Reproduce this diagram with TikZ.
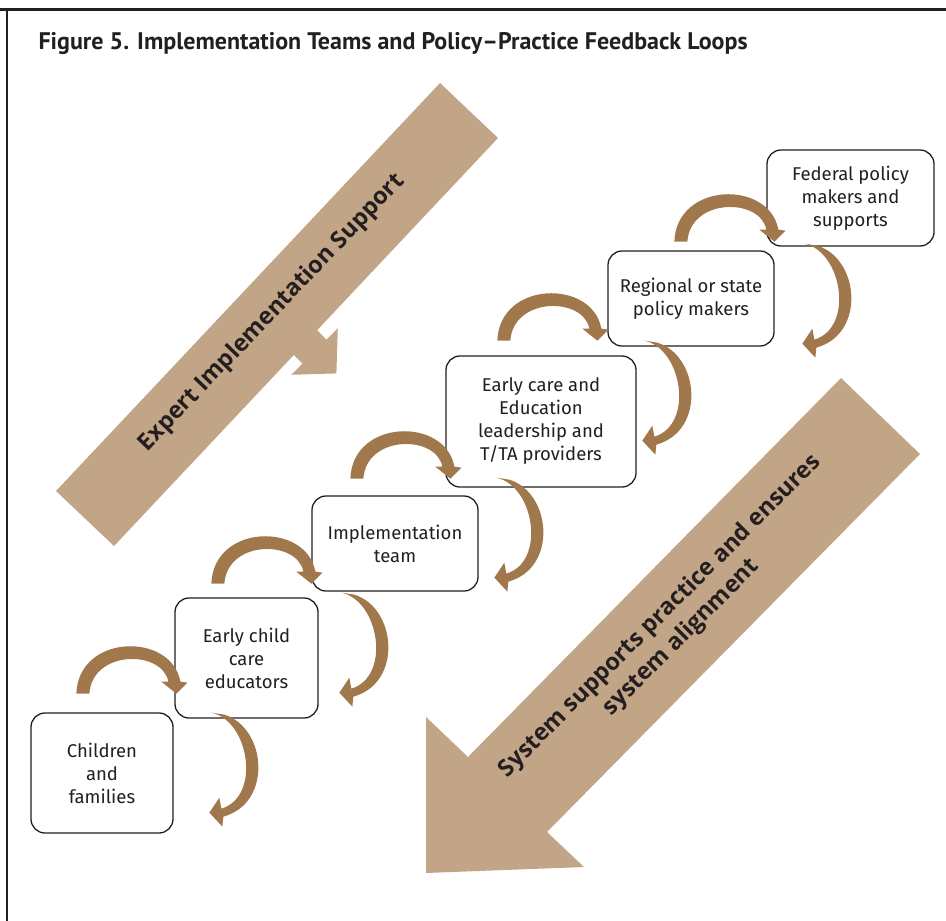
\documentclass[tikz,border=0pt]{standalone}
\usepackage{fontspec}
\setmainfont{Fira Sans}
\newfontfamily\titlefont{PT Sans}
\newfontfamily\bandfont{Open Sans}
\definecolor{tanband}{HTML}{C2A486}
\definecolor{loopbrown}{HTML}{A1784B}
\definecolor{inkline}{HTML}{231F20}

\tikzset{
box/.style={draw=inkline, line width=1.3pt, rounded corners=14pt, fill=white, align=center, text=inkline, inner sep=0pt, font=\fontsize{18.5}{23}\selectfont},
bandfill/.style={fill=tanband, draw=none},
loopfill/.style={fill=loopbrown, draw=none},
bandtext/.style={font=\bandfont\bfseries\fontsize{23.5}{30}\selectfont, text=inkline, align=center},
toploop/.pic={\fill[loopfill] (0,0) .. controls (2,-60) and (95,-62) .. (104,-12) -- (111,-11) -- (100,0) -- (85,-12) -- (92,-12) .. controls (86,-44) and (16,-44) .. (13,0) -- cycle;},
botloop/.pic={\fill[loopfill] (0,0) -- (13,2) .. controls (55,15) and (62,90) .. (12,104) -- (11,114) -- (-2,100) -- (8,85) -- (10,96) .. controls (50,84) and (38,8) .. (0,0) -- cycle;},
}

\begin{document}
\begin{tikzpicture}[x=1pt, y=-1pt]
\useasboundingbox (0,0) rectangle (946,921);
% frame
\draw[inkline, line width=3pt] (0,9.5) -- (946,9.5);
\draw[inkline, line width=2.5pt] (7,8) -- (7,921);
\node[anchor=base west, text=inkline, font=\titlefont\bfseries\fontsize{24}{28}\selectfont] (title) at (35,49) {Figure 5. Implementation Teams and Policy–Practice Feedback Loops};

% big arrows
\fill[bandfill] (56,491) -- (440,83) -- (498,138) -- (114,546) -- cycle;
\fill[bandfill] (308.8,321.8) -- (326.5,339.5) -- (337.8,328.2) -- (336.4,373.4) -- (291.2,374.8) -- (302.5,363.5) -- (284.8,345.8) -- cycle;
\fill[bandfill] (841,378) -- (920,454) -- (547,832) -- (584,867) -- (426,873) -- (426,717) -- (468,757) -- cycle;
\node[bandtext, rotate=46.3] (expert) at (272,313) {Expert Implementation Support};
\node[bandtext, rotate=45] (system) at (671,627) {System supports practice and ensures\\system alignment};

% boxes
\node[box, minimum width=142pt, minimum height=120pt] (kids) at (102,773) {Children\\and\\families};
\node[box, minimum width=143pt, minimum height=120pt] (educ) at (246.5,658) {Early child\\care\\educators};
\node[box, minimum width=166pt, minimum height=95pt] (impl) at (395,543.5) {Implementation\\team};
\node[box, minimum width=190pt, minimum height=131pt] (ecel) at (541,421.5) {Early care and\\Education\\leadership and\\T/TA providers};
\node[box, minimum width=166pt, minimum height=95pt] (reg) at (691,298.5) {Regional or state\\policy makers};
\node[box, minimum width=167pt, minimum height=96pt] (fed) at (850.5,198) {Federal policy\\makers and\\supports};

% feedback loops
\pic[shift={(-98,-25)}] at (educ.south west) {toploop};
\pic[shift={(37,-6)}] at (educ.south west) {botloop};
\pic[shift={(-100,-8)}] at (impl.south west) {toploop};
\pic[shift={(30,1)}] at (impl.south west) {botloop};
\pic[shift={(-95,-9)}] at (ecel.south west) {toploop};
\pic[shift={(51,-10)}] at (ecel.south west) {botloop};
\pic[shift={(-110,-6)}] at (reg.south west) {toploop};
\pic[shift={(37,-6)}] at (reg.south west) {botloop};
\pic[shift={(-92,-5)}] at (fed.south west) {toploop};
\pic[shift={(38,-3)}] at (fed.south west) {botloop};
\end{tikzpicture}
\end{document}
